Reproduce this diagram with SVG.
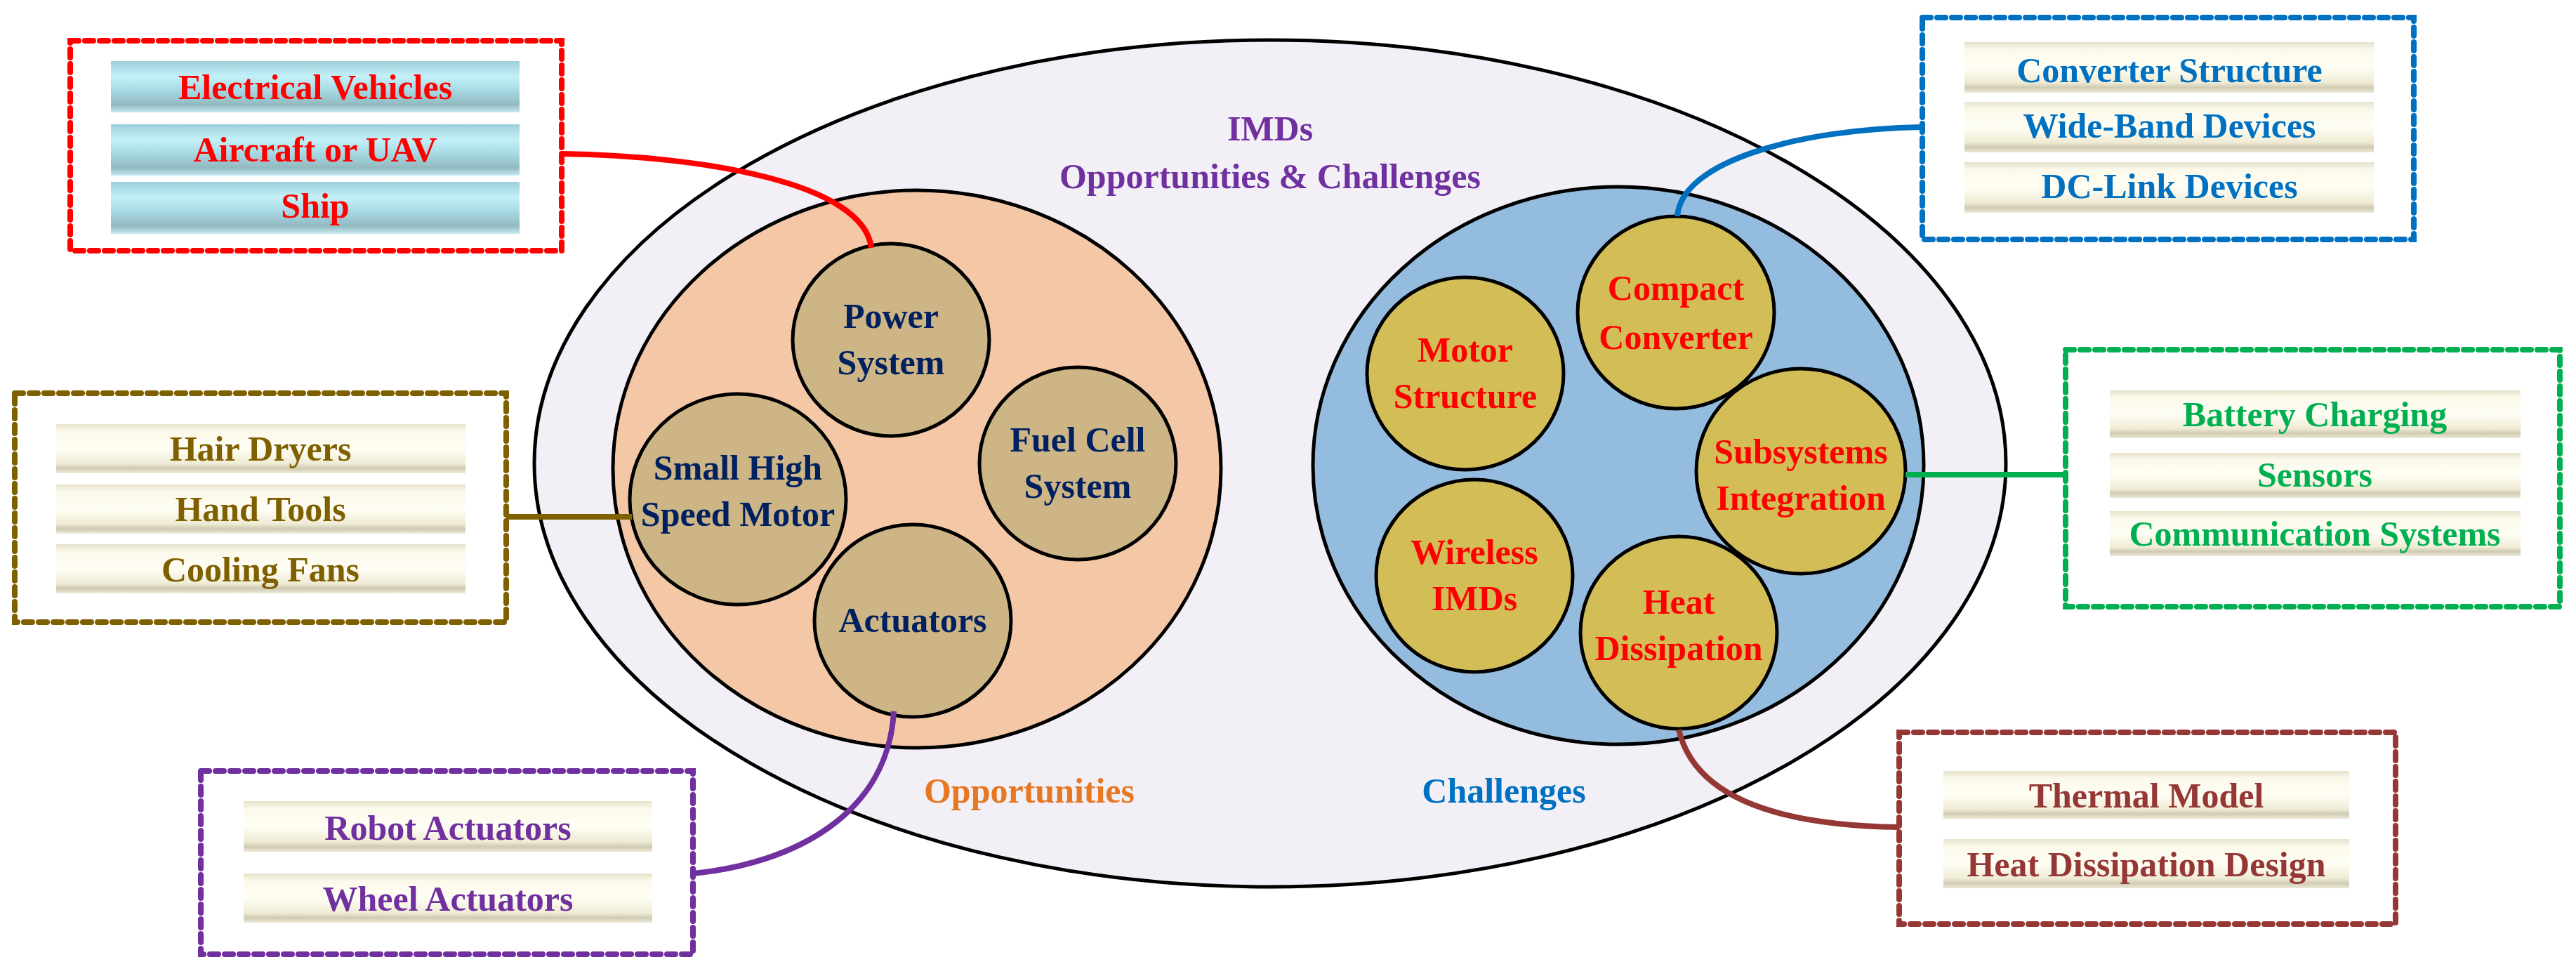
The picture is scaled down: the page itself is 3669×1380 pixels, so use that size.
<svg xmlns="http://www.w3.org/2000/svg" width="3669" height="1380" viewBox="0 0 3669 1380">
<defs>
<linearGradient id="cream" x1="0" y1="0" x2="0" y2="1">
<stop offset="0" stop-color="#E6E2CC"/><stop offset="0.15" stop-color="#FBF9EA"/><stop offset="0.5" stop-color="#FFFEF4"/><stop offset="0.8" stop-color="#EFEBD5"/><stop offset="0.9" stop-color="#CFCAB2"/><stop offset="1" stop-color="#EDEAD8"/>
</linearGradient>
<linearGradient id="sky" x1="0" y1="0" x2="0" y2="1">
<stop offset="0" stop-color="#9CCFDB"/><stop offset="0.3" stop-color="#C4F0F8"/><stop offset="0.55" stop-color="#A8DCE6"/><stop offset="0.85" stop-color="#93B9C0"/><stop offset="1" stop-color="#C6EAF0"/>
</linearGradient>
<style>
.t{font-family:"Liberation Serif","Times New Roman",serif;font-weight:bold;font-size:50px;text-anchor:middle}
.box{fill:none;stroke-width:8;stroke-dasharray:12 9;stroke-linecap:round}
.it{fill:url(#cream)}
.sk{fill:url(#sky)}
.c{stroke:#000;stroke-width:5}
.lc{fill:#CDB585}
.rc{fill:#D2BD57}
.con{fill:none;stroke-width:8}
</style>
</defs>
<g id="main">
<ellipse cx="1809" cy="660" rx="1048" ry="603" fill="#F2F0F6" stroke="#000" stroke-width="5"/>
<text class="t" x="1809" y="200" fill="#7030A0">IMDs</text>
<text class="t" x="1809" y="268" fill="#7030A0">Opportunities &amp; Challenges</text>
<text class="t" x="1466" y="1143" fill="#E87722">Opportunities</text>
<text class="t" x="2142" y="1143" fill="#0070C0">Challenges</text>
</g>
<g id="opportunities"><ellipse cx="1306" cy="668" rx="433" ry="397" fill="#F4C8A6" stroke="#000" stroke-width="5"/></g>
<g id="challenges"><ellipse cx="2305" cy="663" rx="435" ry="397" fill="#94BCDE" stroke="#000" stroke-width="5"/></g>
<g id="power"><ellipse class="c lc" cx="1269" cy="484" rx="140" ry="137"/><text class="t" x="1269" y="467" fill="#002060">Power</text><text class="t" x="1269" y="533" fill="#002060">System</text></g>
<g id="smallmotor"><ellipse class="c lc" cx="1051" cy="711" rx="154" ry="150"/><text class="t" x="1051" y="683" fill="#002060">Small High</text><text class="t" x="1051" y="749" fill="#002060">Speed Motor</text></g>
<g id="fuelcell"><ellipse class="c lc" cx="1535" cy="660" rx="140" ry="137"/><text class="t" x="1535" y="643" fill="#002060">Fuel Cell</text><text class="t" x="1535" y="709" fill="#002060">System</text></g>
<g id="actuators"><ellipse class="c lc" cx="1300" cy="884" rx="140" ry="137"/><text class="t" x="1300" y="900" fill="#002060">Actuators</text></g>
<g id="motorstructure"><ellipse class="c rc" cx="2087" cy="532" rx="140" ry="137"/><text class="t" x="2087" y="515" fill="#FF0000">Motor</text><text class="t" x="2087" y="581" fill="#FF0000">Structure</text></g>
<g id="compact"><ellipse class="c rc" cx="2387" cy="445" rx="140" ry="137"/><text class="t" x="2387" y="427" fill="#FF0000">Compact</text><text class="t" x="2387" y="497" fill="#FF0000">Converter</text></g>
<g id="subsystems"><ellipse class="c rc" cx="2565" cy="671" rx="149" ry="146"/><text class="t" x="2565" y="660" fill="#FF0000">Subsystems</text><text class="t" x="2565" y="726" fill="#FF0000">Integration</text></g>
<g id="wireless"><ellipse class="c rc" cx="2100" cy="820" rx="140" ry="137"/><text class="t" x="2100" y="803" fill="#FF0000">Wireless</text><text class="t" x="2100" y="869" fill="#FF0000">IMDs</text></g>
<g id="heat"><ellipse class="c rc" cx="2391" cy="901" rx="140" ry="137"/><text class="t" x="2391" y="874" fill="#FF0000">Heat</text><text class="t" x="2391" y="940" fill="#FF0000">Dissipation</text></g>
<g id="connectors">
<path class="con" stroke="#FF0000" d="M800 219 C1000 222 1230 260 1241 353"/>
<path class="con" stroke="#0070C0" d="M2738 181 C2560 184 2395 230 2389 308"/>
<path class="con" stroke="#00B050" d="M2714 676 L2942 676"/>
<path class="con" stroke="#7F6000" d="M721 736 L900 736"/>
<path class="con" stroke="#7030A0" d="M987 1244 C1130 1230 1265 1160 1273 1013"/>
<path class="con" stroke="#953735" d="M2391 1039 C2410 1120 2500 1175 2705 1178"/>
</g>
<g id="apps-red">
<rect class="box" stroke="#FF0000" x="100" y="58" width="700" height="299"/>
<rect class="sk" x="158" y="87" width="582" height="73"/><text class="t" x="449" y="141" fill="#FF0000">Electrical Vehicles</text>
<rect class="sk" x="158" y="177" width="582" height="73"/><text class="t" x="449" y="230" fill="#FF0000">Aircraft or UAV</text>
<rect class="sk" x="158" y="259" width="582" height="74"/><text class="t" x="449" y="310" fill="#FF0000">Ship</text>
</g>
<g id="apps-brown">
<rect class="box" stroke="#7F6000" x="21" y="560" width="700" height="326"/>
<rect class="it" x="80" y="604" width="583" height="70"/><text class="t" x="371" y="656" fill="#7F6000">Hair Dryers</text>
<rect class="it" x="80" y="690" width="583" height="70"/><text class="t" x="371" y="742" fill="#7F6000">Hand Tools</text>
<rect class="it" x="80" y="775" width="583" height="70"/><text class="t" x="371" y="828" fill="#7F6000">Cooling Fans</text>
</g>
<g id="apps-purple">
<rect class="box" stroke="#7030A0" x="286" y="1098" width="701" height="261"/>
<rect class="it" x="347" y="1141" width="582" height="72"/><text class="t" x="638" y="1196" fill="#7030A0">Robot Actuators</text>
<rect class="it" x="347" y="1244" width="582" height="70"/><text class="t" x="638" y="1297" fill="#7030A0">Wheel Actuators</text>
</g>
<g id="apps-blue">
<rect class="box" stroke="#0070C0" x="2738" y="25" width="700" height="316"/>
<rect class="it" x="2798" y="60" width="583" height="72"/><text class="t" x="3090" y="117" fill="#0070C0">Converter Structure</text>
<rect class="it" x="2798" y="145" width="583" height="72"/><text class="t" x="3090" y="196" fill="#0070C0">Wide-Band Devices</text>
<rect class="it" x="2798" y="231" width="583" height="72"/><text class="t" x="3090" y="282" fill="#0070C0">DC-Link  Devices</text>
</g>
<g id="apps-green">
<rect class="box" stroke="#00B050" x="2942" y="498" width="704" height="366"/>
<rect class="it" x="3005" y="556" width="585" height="68"/><text class="t" x="3297" y="607" fill="#00B050">Battery Charging</text>
<rect class="it" x="3005" y="645" width="585" height="64"/><text class="t" x="3297" y="693" fill="#00B050">Sensors</text>
<rect class="it" x="3005" y="728" width="585" height="64"/><text class="t" x="3297" y="777" fill="#00B050">Communication Systems</text>
</g>
<g id="apps-darkred">
<rect class="box" stroke="#953735" x="2705" y="1043" width="707" height="273"/>
<rect class="it" x="2768" y="1098" width="578" height="68"/><text class="t" x="3057" y="1150" fill="#953735">Thermal Model</text>
<rect class="it" x="2768" y="1195" width="578" height="70"/><text class="t" x="3057" y="1248" fill="#953735">Heat Dissipation Design</text>
</g>
</svg>
